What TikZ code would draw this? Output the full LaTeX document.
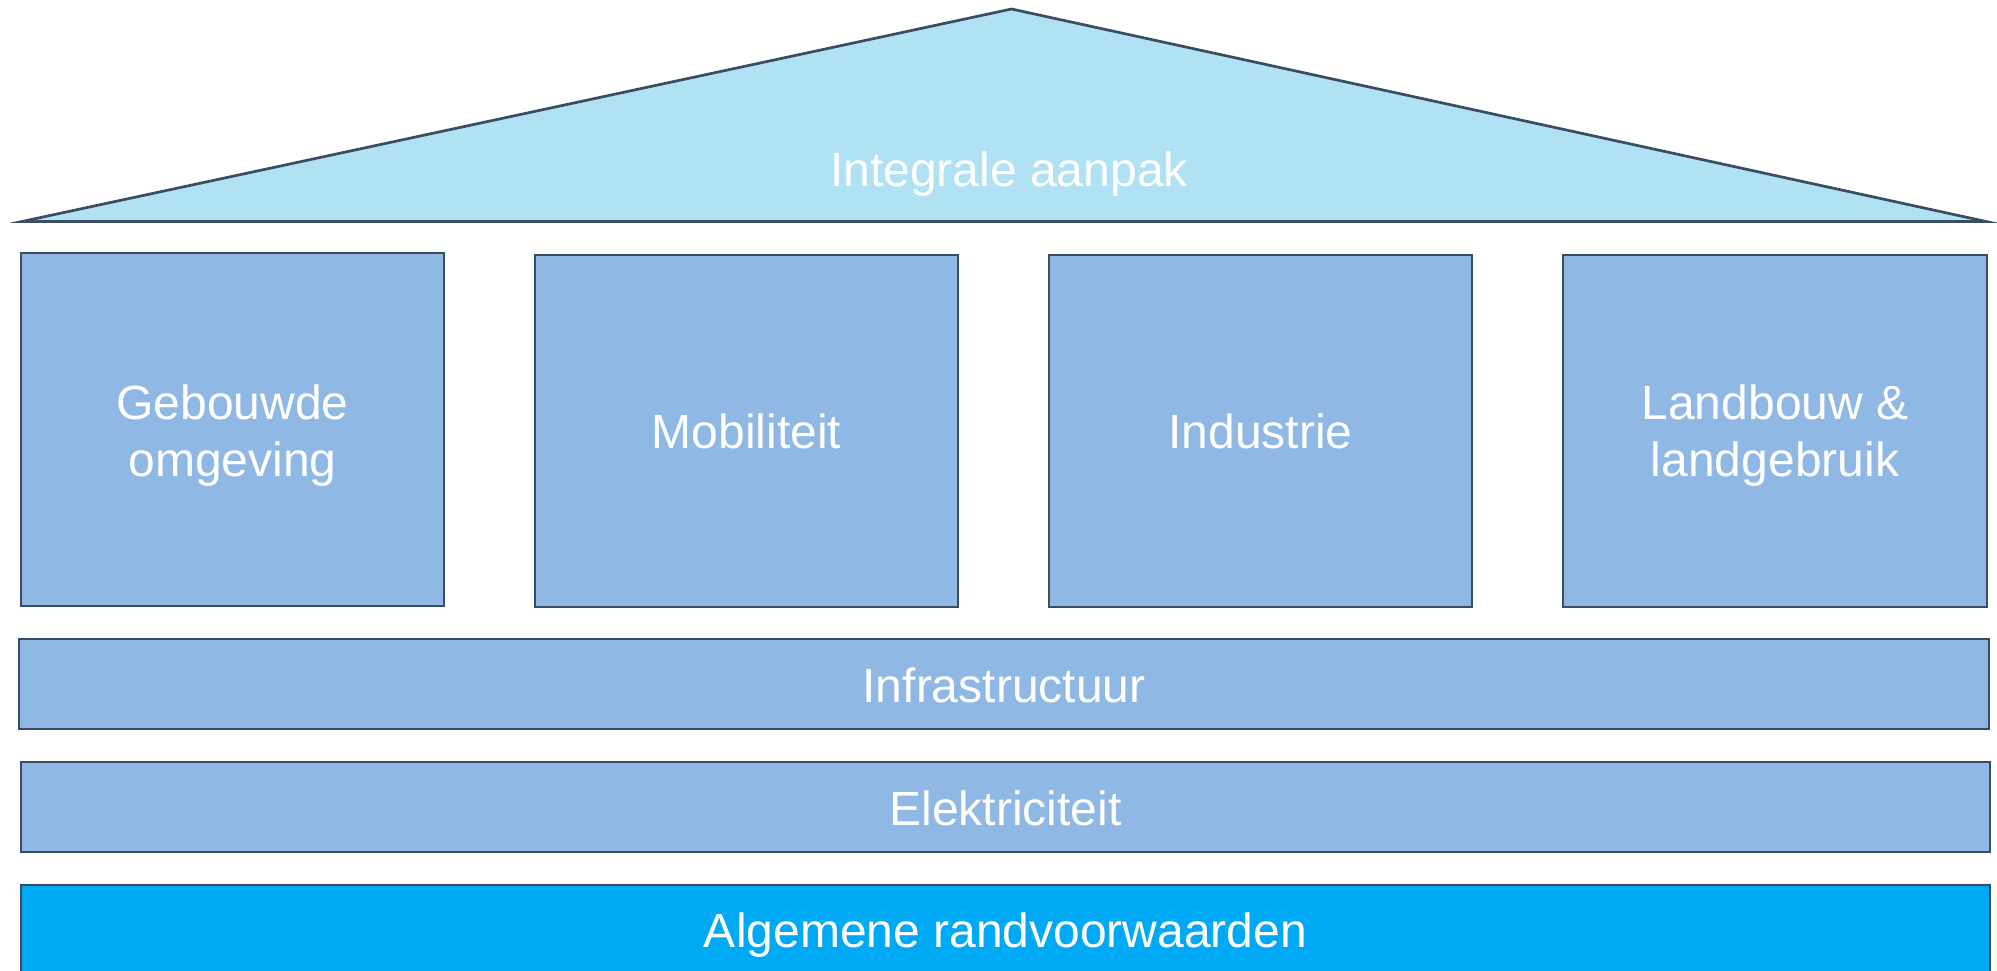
\documentclass[tikz,border=0pt]{standalone}
\usepackage{fontspec}
\setmainfont{Liberation Sans}
\definecolor{roofc}{HTML}{B1E2F3}
\definecolor{boxc}{HTML}{8FB9E4}
\definecolor{basec}{HTML}{00A9F3}
\definecolor{edgec}{HTML}{3A4D63}
\begin{document}
\begin{tikzpicture}[x=1pt,y=-1pt,
  part/.style={draw=edgec, line width=2.7pt, fill=boxc, rectangle, inner sep=0pt, outer sep=0pt},
  lbl/.style={text=white, font=\fontsize{48}{57}\selectfont, anchor=base, align=center, inner sep=0pt}]
\clip (0,0) rectangle (1997,970);
\fill[white] (0,0) rectangle (1997,970);
% roof
\coordinate (rl) at (22,221.5);
\coordinate (ra) at (1011.5,9);
\coordinate (rr) at (1986,221.5);
\draw[draw=edgec, fill=roofc, line width=2.7pt] (rl) -- (ra) -- (rr) -- cycle;
\node[lbl] (roof) at (1009,186.5) {Integrale aanpak};
% pillars
\node[part, minimum width=423pt, minimum height=353pt] (geb) at (232.5,429.5) {};
\node[part, minimum width=423pt, minimum height=352pt] (mob) at (746.5,431) {};
\node[part, minimum width=423pt, minimum height=352pt] (ind) at (1260.5,431) {};
\node[part, minimum width=424pt, minimum height=352pt] (lan) at (1775,431) {};
\node[lbl] (gebt) at (232.5,476.5) {Gebouwde\\omgeving};
\node[lbl] (mobt) at (746.5,448) {Mobiliteit};
\node[lbl] (indt) at (1260.5,448) {Industrie};
\node[lbl] (lant) at (1775,476.5) {Landbouw \&\\landgebruik};
% bars
\node[part, minimum width=1970pt, minimum height=90pt] (inf) at (1004,684) {};
\node[part, minimum width=1969pt, minimum height=90pt] (ele) at (1005.5,807) {};
\node[part, fill=basec, minimum width=1969pt, minimum height=90pt] (alg) at (1005.5,930) {};
\node[lbl] (inft) at (1004,702) {Infrastructuur};
\node[lbl] (elet) at (1005.5,825) {Elektriciteit};
\node[lbl] (algt) at (1005.5,947) {Algemene randvoorwaarden};
\end{tikzpicture}
\end{document}
